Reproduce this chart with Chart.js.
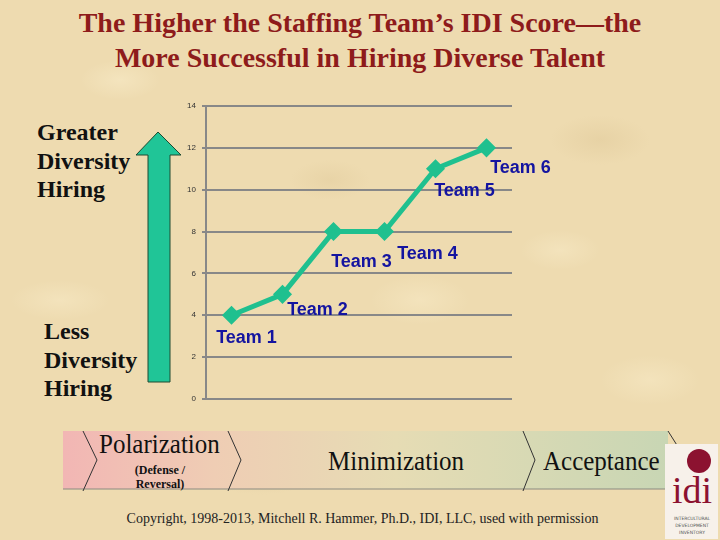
<!DOCTYPE html>
<html>
<head>
<meta charset="utf-8">
<script src="https://cdn.jsdelivr.net/npm/chart.js@4/dist/chart.umd.min.js"></script>
<style>
  html, body { margin: 0; padding: 0; }
  body {
    width: 720px; height: 540px; position: relative; overflow: hidden;
    background-color: #eedbb0;
    background-image:
      radial-gradient(ellipse 40px 20px at 120px 80px, rgba(255,245,215,.35), transparent),
      radial-gradient(ellipse 50px 25px at 420px 300px, rgba(255,245,215,.3), transparent),
      radial-gradient(ellipse 50px 25px at 600px 140px, rgba(215,190,140,.3), transparent),
      radial-gradient(ellipse 60px 25px at 260px 470px, rgba(215,190,140,.25), transparent),
      radial-gradient(ellipse 50px 20px at 60px 300px, rgba(255,245,215,.3), transparent),
      radial-gradient(ellipse 50px 25px at 650px 380px, rgba(255,245,215,.3), transparent),
      radial-gradient(ellipse 40px 20px at 330px 180px, rgba(215,190,140,.25), transparent),
      radial-gradient(ellipse 40px 20px at 560px 250px, rgba(255,245,215,.3), transparent);
    font-family: "Liberation Serif", "Times New Roman", serif;
  }
  .abs { position: absolute; }
  #title { left: 0; width: 720px; top: 5px; text-align: center; color: #8e1b1b;
    font-weight: bold; font-size: 28px; line-height: 35px; }
  .side { font-weight: bold; font-size: 24px; line-height: 28.5px; color: #111; }
  #chart { left: 0; top: 0; }
  .stage { font-size: 25px; color: #111; transform: scaleY(1.08); transform-origin: left top; }
  #copy { left: 0; width: 725px; top: 511px; text-align: center; font-size: 14px; color: #222; }
</style>
</head>
<body>
<div id="title" class="abs">The Higher the Staffing Team’s IDI Score—the<br>More Successful in Hiring Diverse Talent</div>

<div class="abs side" style="left:37px; top:118px;">Greater<br>Diversity<br>Hiring</div>
<div class="abs side" style="left:44px; top:317px;">Less<br>Diversity<br>Hiring</div>

<svg class="abs" style="left:0; top:0;" width="720" height="540">
  <defs>
    <linearGradient id="band" x1="0" x2="1" y1="0" y2="0">
      <stop offset="0" stop-color="#f2b6b4"/>
      <stop offset="0.25" stop-color="#efcdb4"/>
      <stop offset="0.55" stop-color="#e6dcb4"/>
      <stop offset="1" stop-color="#c8d6b4"/>
    </linearGradient>
  </defs>
  <polygon points="136,155 158,132 181,155 170,155 170,382 148,382 148,155"
           fill="#20c597" stroke="#1f4a30" stroke-width="1"/>
  <rect x="63" y="431" width="605" height="58" fill="url(#band)"/>
  <line x1="63" y1="489" x2="668" y2="489" stroke="#8a8a80" stroke-width="1"/>
  <polyline points="83,431 97,460 83,491" fill="none" stroke="#333" stroke-width="1"/>
  <polyline points="228,431 241,460 228,491" fill="none" stroke="#333" stroke-width="1"/>
  <polyline points="523,431 535,460 523,491" fill="none" stroke="#333" stroke-width="1"/>
  <polyline points="668,431 680,450" fill="none" stroke="#333" stroke-width="1"/>
  <rect x="665" y="444" width="53" height="95" fill="#f7f1ea"/>
  <circle cx="699" cy="461" r="12" fill="#8c1230"/>
</svg>

<div class="abs stage" style="left:99px; top:429px;">Polarization</div>
<div class="abs" style="left:118px; top:463px; width:84px; text-align:center; font-size:12px; font-weight:bold; line-height:14px; color:#111;">(Defense /<br>Reversal)</div>
<div class="abs stage" style="left:328px; top:446px;">Minimization</div>
<div class="abs stage" style="left:543px; top:446px;">Acceptance</div>
<div class="abs" style="left:672px; top:470px; width:40px; text-align:center; font-size:38px; line-height:40px; color:#8c1230;">idi</div>
<div class="abs" style="left:666px; top:515px; width:52px; text-align:center; font-family:'DejaVu Sans',sans-serif; font-size:4.5px; line-height:7px; color:#555;">INTERCULTURAL<br>DEVELOPMENT<br>INVENTORY</div>
<div id="copy" class="abs">Copyright, 1998-2013, Mitchell R. Hammer, Ph.D., IDI, LLC, used with permission</div>

<canvas id="chart" class="abs" width="720" height="540"></canvas>

<script>
// values
const teams = ["Team 1", "Team 2", "Team 3", "Team 4", "Team 5", "Team 6"];
const idiScores = [4, 5, 8, 8, 11, 12];
const yTicks = [0, 2, 4, 6, 8, 10, 12, 14];

// where each team label sits relative to its point
const labelOffsets = [[15, 23], [35, 16], [28, 30], [43, 22], [29, 22], [34, 20]];

const teamLabels = {
  id: "teamLabels",
  afterDatasetsDraw(chart) {
    const ctx = chart.ctx;
    const pts = chart.getDatasetMeta(0).data;
    ctx.save();
    ctx.font = "bold 18px 'Liberation Sans', Arial, sans-serif";
    ctx.fillStyle = "#1414a0";
    ctx.textAlign = "center";
    ctx.textBaseline = "middle";
    pts.forEach((p, i) => {
      ctx.fillText(teams[i], p.x + labelOffsets[i][0], p.y + labelOffsets[i][1]);
    });
    ctx.restore();
  }
};

new Chart(document.getElementById("chart"), {
  type: "line",
  data: {
    labels: teams,
    datasets: [{
      data: idiScores,
      borderColor: "#1fc08f",
      backgroundColor: "#1fc08f",
      borderWidth: 5,
      pointStyle: "rectRot",
      pointRadius: 6,
      tension: 0
    }]
  },
  options: {
    responsive: false,
    animation: false,
    layout: { padding: { left: 176, right: 208, top: 106, bottom: 141 } },
    plugins: { legend: { display: false }, tooltip: { enabled: false } },
    scales: {
      x: { display: false, offset: true },
      y: {
        min: 0, max: 14,
        afterFit: s => { s.width = 30; },
        afterBuildTicks: s => { s.ticks = yTicks.map(v => ({ value: v })); },
        ticks: { font: { size: 8, family: "'Liberation Sans', Arial" }, color: "#333", padding: 6 },
        grid: { color: "#888", lineWidth: 2, tickLength: 4 },
        border: { color: "#888", width: 2 }
      }
    }
  },
  plugins: [teamLabels]
});
</script>
</body>
</html>
